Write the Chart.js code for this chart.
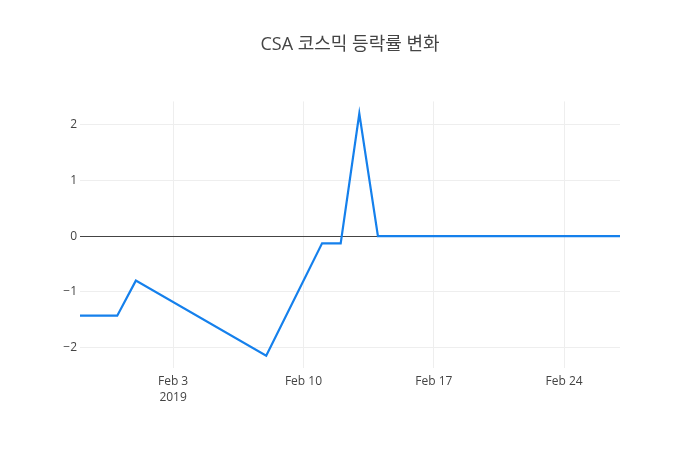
<!DOCTYPE html>
<html>
<head>
<meta charset="utf-8">
<script src="https://cdn.jsdelivr.net/npm/chart.js@4"></script>
<style>
html,body{margin:0;padding:0;background:#fff;}
#wrap{width:700px;height:450px;}
</style>
</head>
<body>
<div id="wrap"><canvas id="c" width="700" height="450"></canvas></div>
<script>
// Data
const dates = ["2019-01-29","2019-01-30","2019-01-31","2019-02-01","2019-02-08","2019-02-11","2019-02-12","2019-02-13","2019-02-14","2019-02-15","2019-02-18","2019-02-19","2019-02-20","2019-02-21","2019-02-22","2019-02-25","2019-02-26","2019-02-27"];
const changeRate = [-1.43,-1.43,-1.43,-0.8,-2.15,-0.13,-0.13,2.2,0,0,0,0,0,0,0,0,0,0];
const xTickDates = ["2019-02-03","2019-02-10","2019-02-17","2019-02-24"];
const xTickLabels = [["Feb 3","2019"],["Feb 10"],["Feb 17"],["Feb 24"]];
const yTicks = [-2,-1,0,1,2];
const titleText = "CSA 코스믹 등락률 변화";

const toT = s => Date.parse(s + "T00:00:00Z");
const xTickT = xTickDates.map(toT);
const pts = dates.map((d,i)=>({x:toT(d), y:changeRate[i]}));

const FONT = "'Open Sans','Noto Sans CJK KR',sans-serif";

new Chart(document.getElementById('c'), {
  type: 'line',
  data: {
    datasets: [{
      data: pts,
      borderColor: '#1580ec',
      borderWidth: 2.2,
      pointRadius: 0,
      tension: 0,
      fill: false
    }]
  },
  options: {
    responsive: false,
    animation: false,
    devicePixelRatio: 1,
    layout: {padding: {left: 0, right: 0, top: 0, bottom: 0}},
    plugins: {
      legend: {display: false},
      tooltip: {enabled: false},
      title: {
        display: true,
        text: titleText,
        color: '#444',
        font: {family: FONT, size: 18, weight: 'normal', lineHeight: 1.2},
        padding: {top: 34.5, bottom: 45.3}
      }
    },
    scales: {
      x: {
        type: 'linear',
        min: toT("2019-01-29"),
        max: toT("2019-02-27"),
        afterBuildTicks: s => { s.ticks = xTickT.map(v=>({value:v})); },
        afterFit: s => { s.height = 82; },
        grid: {color: '#eeeeee', lineWidth: 1, drawTicks: false},
        border: {display: false},
        ticks: {
          padding: 5,
          color: '#444',
          font: {family: FONT, size: 12, lineHeight: 1.35},
          maxRotation: 0,
          autoSkip: false,
          callback: (v) => { const i = xTickT.indexOf(v); return i >= 0 ? xTickLabels[i] : ''; }
        }
      },
      y: {
        min: -2.37,
        max: 2.42,
        afterBuildTicks: s => { s.ticks = yTicks.map(v=>({value:v})); },
        afterFit: s => { s.width = 80; },
        grid: {
          color: c => (c.tick && c.tick.value === 0) ? '#444444' : '#eeeeee',
          lineWidth: 1,
          drawTicks: false
        },
        border: {display: false},
        ticks: {
          padding: 3,
          color: '#444',
          font: {family: FONT, size: 12},
          callback: v => (v < 0 ? '\u2212' + Math.abs(v) : String(v))
        }
      },
      yRight: {
        position: 'right',
        display: true,
        afterFit: s => { s.width = 80; },
        grid: {display: false},
        border: {display: false},
        ticks: {display: false}
      }
    }
  }
});
</script>
</body>
</html>
